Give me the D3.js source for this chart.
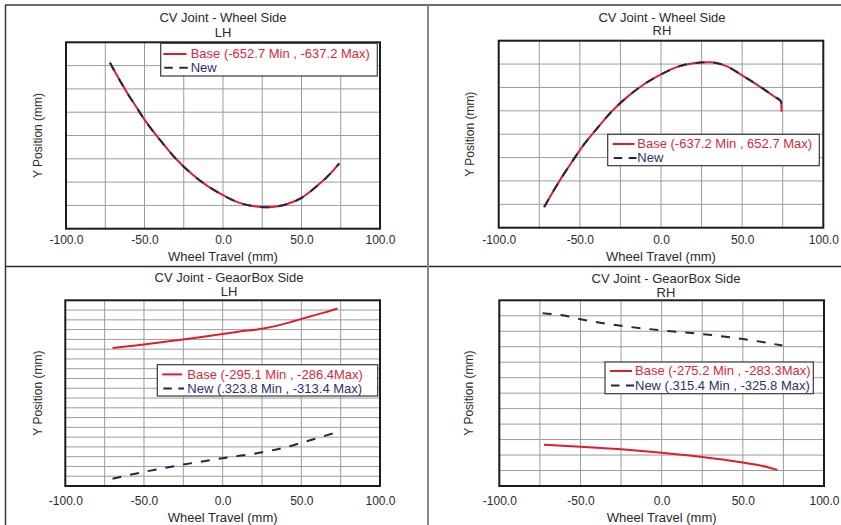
<!DOCTYPE html>
<html>
<head>
<meta charset="utf-8">
<script src="https://cdn.jsdelivr.net/npm/d3@7"></script>
<style>
  html, body { margin: 0; padding: 0; background: #fff; }
  svg { display: block; font-family: "Liberation Sans", Arial, Helvetica, sans-serif; }
</style>
</head>
<body>
<svg id="chart" width="841" height="525"></svg>
<script>
// ---- Data -------------------------------------------------------------
// Wheel travel (mm) along the x axis, and Y position (mm) of each CV joint.

const xTickValues = [-100, -50, 0, 50, 100];
const xGridValues = [-75, -50, -25, 0, 25, 50, 75];

// CV Joint - Wheel Side, LH
const wheelTravelLH = [-72, -65, -60, -55, -50, -40, -30, -20, -10, 0, 10, 20, 28, 35, 40, 50, 60, 70, 74];
const wheelBaseLH   = [-637.2, -639.3, -640.7, -642.0, -643.3, -645.5, -647.5, -649.1, -650.4, -651.4, -652.2, -652.6, -652.7, -652.6, -652.4, -651.7, -650.4, -648.8, -648.0];
const wheelNewLH    = [-637.2, -639.3, -640.7, -642.0, -643.3, -645.5, -647.5, -649.1, -650.4, -651.4, -652.2, -652.6, -652.7, -652.6, -652.4, -651.7, -650.4, -648.8, -648.0];

// CV Joint - Wheel Side, RH
const wheelTravelRH = [-72, -65, -60, -55, -50, -40, -30, -20, -10, 0, 10, 20, 30, 40, 50, 60, 70, 74, 74.3];
const wheelBaseRH   = [637.2, 639.3, 640.7, 642.0, 643.3, 645.5, 647.5, 649.1, 650.4, 651.4, 652.2, 652.6, 652.7, 652.3, 651.3, 650.2, 649.0, 648.5, 647.4];
const wheelNewRH    = [637.2, 639.3, 640.7, 642.0, 643.3, 645.5, 647.5, 649.1, 650.4, 651.4, 652.2, 652.6, 652.7, 652.3, 651.3, 650.2, 649.0, 648.5, 647.4];

// CV Joint - GeaorBox Side, LH
const gearTravelBaseLH = [-70, -60, -50, -40, -25, -10, 0, 10, 25, 36, 45, 55, 65, 73];
const gearBaseLH       = [-295.1, -294.7, -294.3, -293.85, -293.2, -292.5, -292.0, -291.5, -290.85, -290.05, -289.2, -288.2, -287.25, -286.4];
const gearTravelNewLH  = [-70, -50, -25, 0, 25, 40, 55, 74.6];
const gearNewLH        = [-323.8, -322.3, -320.7, -319.3, -318.0, -316.9, -315.4, -313.4];

// CV Joint - GeaorBox Side, RH
const gearTravelBaseRH = [-72.5, -50, -25, 0, 25, 50, 60, 66, 71.3];
const gearBaseRH       = [283.3, 282.7, 281.85, 280.76, 279.4, 277.6, 276.7, 276.0, 275.2];
const gearTravelNewRH  = [-73.3, -60, -50, -25, 0, 25, 50, 74.3];
const gearNewRH        = [325.8, 325.06, 323.9, 321.77, 320.28, 319.1, 317.5, 315.4];

// Legend texts
const legendTexts = {
  wheelLH: ["Base (-652.7 Min , -637.2 Max)", "New"],
  wheelRH: ["Base (-637.2 Min , 652.7 Max)", "New"],
  gearLH:  ["Base (-295.1 Min , -286.4Max)", "New (.323.8 Min , -313.4 Max)"],
  gearRH:  ["Base (-275.2 Min , -283.3Max)", "New (.315.4 Min , -325.8 Max)"]
};

// ---- Styles ----------------------------------------------------------
const baseColor = "#e31b2f";
const newColor = "#22264a";
const baseTextColor = "#d8283c";
const newTextColor = "#2b2f6e";
const gridColor = "#9c9c9c";
const frameColor = "#1c1c1c";
const textColor = "#2a2a2a";

// ---- Panels ----------------------------------------------------------
const panels = [
  {
    title: "CV Joint - Wheel Side", side: "LH",
    base: { x: wheelTravelLH, y: wheelBaseLH },
    neu:  { x: wheelTravelLH, y: wheelNewLH },
    yDomain: [-655, -635], divisions: 8,
    legend: legendTexts.wheelLH,
    box: { x0: 66, x1: 380, y0: 42.3, y1: 228.7 },
    titleX: 223, titleY: 22, sideY: 36.5, tickY: 244.3, xTitleY: 260.7, yTitleX: 42.3,
    leg: { x0: 160.7, x1: 377.3, y0: 43.3, y1: 76, sx0: 163.3, sx1: 186.5, tx: 190.7, r1: 58.3, r2: 72 }
  },
  {
    title: "CV Joint - Wheel Side", side: "RH",
    base: { x: wheelTravelRH, y: wheelBaseRH },
    neu:  { x: wheelTravelRH, y: wheelNewRH },
    yDomain: [635, 655], divisions: 8,
    legend: legendTexts.wheelRH,
    box: { x0: 498.7, x1: 823.3, y0: 40.7, y1: 227.7 },
    titleX: 662, titleY: 21.5, sideY: 35, tickY: 244.3, xTitleY: 261, yTitleX: 474,
    leg: { x0: 607.7, x1: 819.3, y0: 134.3, y1: 165.7, sx0: 612.7, sx1: 634.5, tx: 637.3, r1: 148.3, r2: 162.3 }
  },
  {
    title: "CV Joint - GeaorBox Side", side: "LH",
    base: { x: gearTravelBaseLH, y: gearBaseLH },
    neu:  { x: gearTravelNewLH, y: gearNewLH },
    yDomain: [-325.4, -284.6], divisions: 19,
    legend: legendTexts.gearLH,
    box: { x0: 65.3, x1: 380, y0: 300.3, y1: 486 },
    titleX: 229, titleY: 281.5, sideY: 296, tickY: 504.7, xTitleY: 522, yTitleX: 42.3,
    leg: { x0: 157.3, x1: 377.7, y0: 364.7, y1: 396, sx0: 162.3, sx1: 182, tx: 187.3, r1: 378.7, r2: 392.7 }
  },
  {
    title: "CV Joint - GeaorBox Side", side: "RH",
    base: { x: gearTravelBaseRH, y: gearBaseRH },
    neu:  { x: gearTravelNewRH, y: gearNewRH },
    yDomain: [270, 330], divisions: 12,
    legend: legendTexts.gearRH,
    box: { x0: 499.3, x1: 824, y0: 300.3, y1: 486 },
    titleX: 666, titleY: 282.5, sideY: 296.5, tickY: 505, xTitleY: 522, yTitleX: 473,
    leg: { x0: 605, x1: 813.3, y0: 362, y1: 393.7, sx0: 610, sx1: 632, tx: 635, r1: 375.3, r2: 389.7 }
  }
];

const svg = d3.select("#chart");
svg.append("rect").attr("width", 841).attr("height", 525).attr("fill", "#fff");

// Page separators between the four panels
const sep = svg.append("g");
sep.append("line").attr("x1", 5).attr("x2", 841).attr("y1", 5).attr("y2", 5)
  .attr("stroke", "#3a3a3a").attr("stroke-width", 1.5);
sep.append("line").attr("x1", 5.5).attr("x2", 5.5).attr("y1", 5).attr("y2", 525)
  .attr("stroke", "#3a3a3a").attr("stroke-width", 1.5);
sep.append("line").attr("x1", 5).attr("x2", 841).attr("y1", 266.5).attr("y2", 266.5)
  .attr("stroke", "#2a2a2a").attr("stroke-width", 1.5);
sep.append("line").attr("x1", 428).attr("x2", 428).attr("y1", 5).attr("y2", 525)
  .attr("stroke", "#8a8a8a").attr("stroke-width", 2);

function drawPanel(p) {
  const b = p.box;
  const x = d3.scaleLinear().domain([-100, 100]).range([b.x0, b.x1]);
  const y = d3.scaleLinear().domain(p.yDomain).range([b.y1, b.y0]);
  const g = svg.append("g");

  // Plot background
  g.append("rect").attr("x", b.x0).attr("y", b.y0)
    .attr("width", b.x1 - b.x0).attr("height", b.y1 - b.y0).attr("fill", "#fff");

  // Grid
  g.append("g").selectAll("line").data(xGridValues).join("line")
    .attr("x1", d => x(d)).attr("x2", d => x(d))
    .attr("y1", b.y0).attr("y2", b.y1)
    .attr("stroke", gridColor).attr("stroke-width", 1);
  const step = (p.yDomain[1] - p.yDomain[0]) / p.divisions;
  const yGrid = d3.range(1, p.divisions).map(i => p.yDomain[0] + i * step);
  g.append("g").selectAll("line").data(yGrid).join("line")
    .attr("x1", b.x0).attr("x2", b.x1)
    .attr("y1", d => y(d)).attr("y2", d => y(d))
    .attr("stroke", gridColor).attr("stroke-width", 1);

  // Curves
  const line = d3.line().x(d => x(d[0])).y(d => y(d[1])).curve(d3.curveMonotoneX);
  const basePts = d3.zip(p.base.x, p.base.y);
  const newPts = d3.zip(p.neu.x, p.neu.y);
  g.append("path").datum(basePts).attr("d", line)
    .attr("fill", "none").attr("stroke", baseColor).attr("stroke-width", 2);
  g.append("path").datum(newPts).attr("d", line)
    .attr("fill", "none").attr("stroke", newColor).attr("stroke-width", 2)
    .attr("stroke-dasharray", "9,9");

  // Frame
  g.append("rect").attr("x", b.x0).attr("y", b.y0)
    .attr("width", b.x1 - b.x0).attr("height", b.y1 - b.y0)
    .attr("fill", "none").attr("stroke", frameColor).attr("stroke-width", 2);

  // X axis labels
  const axis = d3.axisBottom(x).tickValues(xTickValues).tickSize(0)
    .tickFormat(d => d.toFixed(1));
  const ax = g.append("g").attr("transform", `translate(0,${b.y1})`).call(axis);
  ax.select(".domain").remove();
  ax.attr("font-family", null).attr("font-size", null);
  ax.selectAll("text").attr("y", p.tickY - b.y1).attr("dy", null)
    .attr("font-size", 12).attr("fill", textColor);

  // Titles
  g.append("text").attr("x", p.titleX).attr("y", p.titleY).attr("text-anchor", "middle")
    .attr("font-size", 13).attr("fill", textColor).text(p.title);
  g.append("text").attr("x", p.titleX).attr("y", p.sideY).attr("text-anchor", "middle")
    .attr("font-size", 13).attr("fill", textColor).text(p.side);
  g.append("text").attr("x", (b.x0 + b.x1) / 2).attr("y", p.xTitleY).attr("text-anchor", "middle")
    .attr("font-size", 13).attr("fill", textColor).text("Wheel Travel (mm)");
  g.append("text")
    .attr("transform", `translate(${p.yTitleX},${(b.y0 + b.y1) / 2}) rotate(-90)`)
    .attr("text-anchor", "middle").attr("font-size", 12).attr("fill", textColor)
    .text("Y Position (mm)");

  // Legend
  const L = p.leg;
  const lg = g.append("g");
  lg.append("rect").attr("x", L.x0).attr("y", L.y0)
    .attr("width", L.x1 - L.x0).attr("height", L.y1 - L.y0)
    .attr("fill", "#fff").attr("stroke", "#3a3a3a").attr("stroke-width", 1.2);
  lg.append("line").attr("x1", L.sx0).attr("x2", L.sx1)
    .attr("y1", L.r1 - 4.3).attr("y2", L.r1 - 4.3)
    .attr("stroke", baseColor).attr("stroke-width", 2);
  lg.append("line").attr("x1", L.sx0 + 1).attr("x2", L.sx1 + 2)
    .attr("y1", L.r2 - 4.3).attr("y2", L.r2 - 4.3)
    .attr("stroke", newColor).attr("stroke-width", 2).attr("stroke-dasharray", "8.5,6.5");
  lg.append("text").attr("x", L.tx).attr("y", L.r1).attr("font-size", 13)
    .attr("fill", baseTextColor).text(p.legend[0]);
  lg.append("text").attr("x", L.tx).attr("y", L.r2).attr("font-size", 13)
    .attr("fill", newTextColor).text(p.legend[1]);
}

panels.forEach(drawPanel);
</script>
</body>
</html>
